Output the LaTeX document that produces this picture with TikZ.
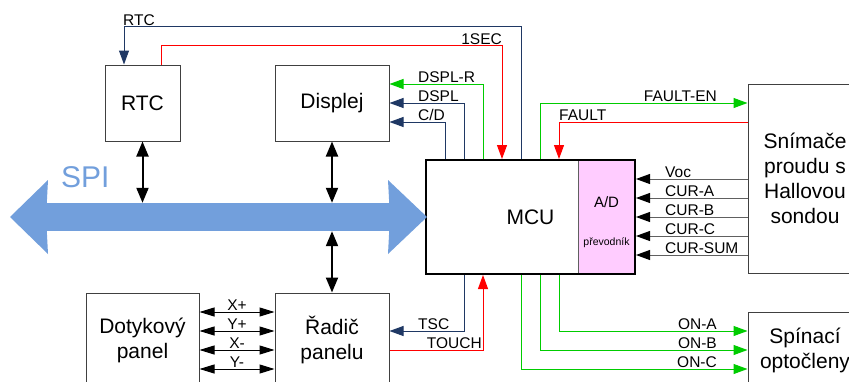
\documentclass[tikz,border=0pt]{standalone}
\usepackage{fontspec}
\setmainfont{Liberation Sans}
\usepackage{tikz}
\usetikzlibrary{arrows.meta}
\definecolor{navy}{RGB}{31,56,100}
\definecolor{spiblue}{RGB}{114,159,220}
\definecolor{okgreen}{RGB}{0,204,0}
\definecolor{boxgray}{RGB}{64,64,64}
\definecolor{wiregray}{RGB}{96,96,96}
\definecolor{adpink}{RGB}{255,204,255}

\begin{document}
\begin{tikzpicture}[x=1pt,y=-1pt,>={Triangle[length=14pt,width=10pt]},
    box/.style={draw=boxgray,line width=1pt,inner sep=0pt,align=center,
                font=\fontsize{21}{25}\selectfont},
    sig/.style={font=\fontsize{15.5}{16}\selectfont,inner sep=1pt},
    link/.style={->,line width=1pt},
    wire/.style={draw=wiregray,line width=1pt,-{Triangle[length=14pt,width=10pt,color=black]}},
    touch/.style={<->,line width=1pt,>={Triangle[length=15pt,width=9pt]}},
    bus/.style={<->,line width=2pt,>={Triangle[length=15pt,width=12pt]}}]
  \clip (0,0) rectangle (849,381);

  % blocks
  \node[box,minimum width=75pt,minimum height=76pt] (rtc) at (142.5,103) {RTC};
  \node[box,minimum width=114pt,minimum height=76pt] (displej) at (332,103) {Displej};
  \node[draw=wiregray,fill=adpink,inner sep=0pt,minimum width=57pt,minimum height=114pt] (ad) at (606.5,217) {};
  \node[font=\fontsize{15}{18}\selectfont] (adtext) at (606.5,202) {A/D};
  \node[font=\fontsize{10.5}{12}\selectfont] (adsub) at (606.5,243) {převodník};
  \node[box,draw=black,line width=2pt,minimum width=209pt,minimum height=114pt] (mcu) at (530.5,217) {MCU};
  \node[box,minimum width=114pt,minimum height=189pt] (snimace) at (805,178.5) {Snímače\\proudu s\\Hallovou\\sondou};
  \node[box,minimum width=114pt,minimum height=76pt] (spinaci) at (805,350) {Spínací\\optočleny};
  \node[box,minimum width=113pt,minimum height=94pt] (dotyk) at (142.5,340) {Dotykový\\panel};
  \node[box,minimum width=114pt,minimum height=94pt] (radic) at (332,340) {Řadič\\panelu};

  % SPI bus
  \node[fill=spiblue,inner sep=0pt,minimum width=342pt,minimum height=28pt] (spi) at (218,217) {};
  \fill[spiblue] (spi.north west) -- (48,180) -- (10,217) -- (48,254) -- (spi.south west) -- cycle;
  \fill[spiblue] (spi.north east) -- (388,180) -- (427,217) -- (388,254) -- (spi.south east) -- cycle;
  \node[text=spiblue,font=\fontsize{30}{36}\selectfont,anchor=west,inner sep=0pt] (spilabel) at (61,177) {SPI};

  \draw[bus] (rtc.south) -- (rtc.south |- spi.north);
  \draw[bus] (displej.south) -- (displej.south |- spi.north);
  \draw[bus] (radic.north) -- (radic.north |- spi.south);

  % top signals
  \draw[link,navy] ([xshift=-9.5pt]mcu.north) -- ++(0,-133) -| ([xshift=-18.5pt]rtc.north);
  \node[sig,anchor=south west] at (122,27) {RTC};
  \draw[link,red] ([xshift=18.5pt]rtc.north) -- ++(0,-19) -| ([xshift=-28.5pt]mcu.north);
  \node[sig,anchor=south east] at (503,46) {1SEC};
  \draw[link,okgreen] ([xshift=-47.5pt]mcu.north) |- ([yshift=19pt]displej.east);
  \node[sig,anchor=south west] at (417,84) {DSPL-R};
  \draw[link,navy] ([xshift=-66.5pt]mcu.north) |- (displej.east);
  \node[sig,anchor=south west] at (417,103) {DSPL};
  \draw[link,navy] ([xshift=-85.5pt]mcu.north) |- ([yshift=-19pt]displej.east);
  \node[sig,anchor=south west] at (417,122) {C/D};
  \draw[link,okgreen] ([xshift=9.5pt]mcu.north) |- ([yshift=75.5pt]snimace.west);
  \node[sig,anchor=south east] at (718,103) {FAULT-EN};
  \draw[link,red] ([yshift=56.5pt]snimace.west) -| ([xshift=28.5pt]mcu.north);
  \node[sig,anchor=south west] at (558,122) {FAULT};

  % sensor inputs
  \foreach \name/\y in {Voc/179,CUR-A/198,CUR-B/217,CUR-C/236,CUR-SUM/255} {
    \draw[wire] (snimace.west |- 0,\y) -- (mcu.east |- 0,\y);
    \node[sig,anchor=south west] at (664,\y) {\name};
  }

  % bottom signals
  \draw[link,navy] ([xshift=-66.5pt]mcu.south) |- ([yshift=9pt]radic.east);
  \node[sig,anchor=south west] at (417,331) {TSC};
  \draw[link,red] ([yshift=-10pt]radic.east) -| ([xshift=-47.5pt]mcu.south);
  \node[sig,anchor=south east] at (483,350) {TOUCH};
  \draw[link,okgreen] ([xshift=28.5pt]mcu.south) |- ([yshift=19pt]spinaci.west);
  \node[sig,anchor=south east] at (718,331) {ON-A};
  \draw[link,okgreen] ([xshift=9.5pt]mcu.south) |- (spinaci.west);
  \node[sig,anchor=south east] at (718,350) {ON-B};
  \draw[link,okgreen] ([xshift=-9.5pt]mcu.south) |- ([yshift=-19pt]spinaci.west);
  \node[sig,anchor=south east] at (718,369) {ON-C};

  % touch panel lines
  \foreach \name/\y in {X+/312,Y+/331,X-/350,Y-/369}
    \draw[touch] (dotyk.east |- 0,\y) -- node[sig,above] {\name} (radic.west |- 0,\y);
\end{tikzpicture}
\end{document}
